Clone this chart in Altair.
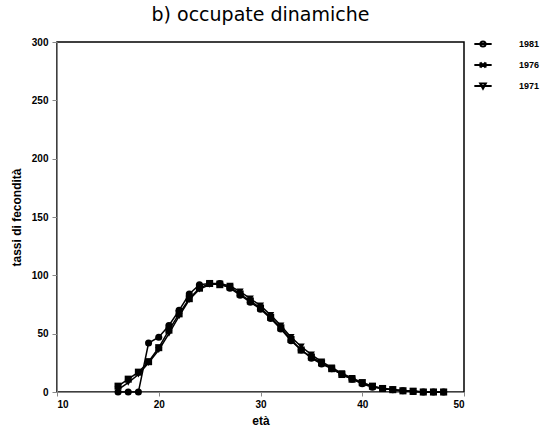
import altair as alt
import pandas as pd

ages = list(range(16, 49))
years = ["1981", "1976", "1971"]

v1981 = [0, 0, 0, 42, 47, 57, 70, 84, 92, 93, 93, 89, 83, 77, 71, 63, 54, 44, 36, 29,
         24, 20, 15, 11, 7, 4, 3, 2, 1, 0.5, 0, 0, 0]
v1976 = [5, 11, 17, 26, 38, 53, 67, 80, 89, 93, 92, 90, 84, 78, 72, 64, 55, 45, 36, 30,
         25, 20, 15, 11, 8, 5, 3, 2, 1, 0.5, 0, 0, 0]
v1971 = [2, 8, 15, 25, 36, 50, 65, 79, 88, 92, 93, 91, 86, 80, 74, 66, 57, 47, 39, 32,
         26, 21, 16, 12, 8, 5, 3, 2, 1, 1, 0, 0, 0]

rows = []
for yr, vals in zip(years, [v1981, v1976, v1971]):
    for a, v in zip(ages, vals):
        rows.append({"eta": a, "tasso": v, "anno": yr})
df = pd.DataFrame(rows)

FONT = "DejaVu Sans"

x = alt.X("eta:Q", scale=alt.Scale(domain=[10, 50], nice=False, zero=False),
          axis=alt.Axis(title="età", values=[10, 20, 30, 40, 50], format="d", grid=False,
                        labelFontWeight="bold", labelFontSize=10, titleFontSize=12,
                        titleFontWeight="bold", tickSize=4, labelPadding=3, titlePadding=6))
y = alt.Y("tasso:Q", scale=alt.Scale(domain=[0, 300], nice=False),
          axis=alt.Axis(title="tassi di fecondità", values=[0, 50, 100, 150, 200, 250, 300],
                        grid=False,
                        labelFontWeight="bold", labelFontSize=10, titleFontSize=12,
                        titleFontWeight="bold", tickSize=5, labelPadding=4, titlePadding=8))

lines = alt.Chart(df).mark_line(color="black", strokeWidth=1.5).encode(
    x=x, y=y, detail="anno:N"
)

points = alt.Chart(df).mark_point(filled=True, color="black", size=50, opacity=1).encode(
    x=x, y=y,
    shape=alt.Shape("anno:N", scale=alt.Scale(domain=years,
                                              range=["circle", "square", "triangle-down"]),
                    legend=None)
)

leg_paths = [
    "M-1,0L1,0M-0.3,0A0.3,0.3 0 1,0 0.3,0A0.3,0.3 0 1,0 -0.3,0Z",
    "M-1,0L1,0M-0.3,-0.3L0.3,0.3M-0.3,0.3L0.3,-0.3M-0.3,-0.3L-0.3,0.3M0.3,-0.3L0.3,0.3",
    "M-1,0L1,0M-0.32,-0.28L0.32,-0.28L0,0.3Z",
]

legend_layer = alt.Chart(df).mark_point(filled=False, color="black", opacity=0,
                                        strokeWidth=2).encode(
    x=x, y=y,
    shape=alt.Shape("anno:N", scale=alt.Scale(domain=years, range=leg_paths),
                    legend=alt.Legend(title=None, orient="none", legendX=416, legendY=-8,
                                      symbolSize=300, symbolOpacity=1,
                                      symbolStrokeColor="black",
                                      symbolStrokeWidth=2, labelFontSize=9,
                                      labelFontWeight="bold", labelOffset=26,
                                      rowPadding=4, padding=0))
)

chart = alt.layer(lines, points, legend_layer).resolve_scale(
    shape="independent"
).resolve_legend(shape="independent").properties(
    width=407, height=350,
    view=alt.ViewBackground(stroke="black", strokeWidth=1.5),
    title=alt.TitleParams("b) occupate dinamiche", fontSize=19, fontWeight="normal",
                          font=FONT, offset=9, anchor="middle"),
    autosize=alt.AutoSizeParams(type="none"),
    padding={"left": 57, "top": 42, "right": 82, "bottom": 43},
).configure_view(
    stroke="black", strokeWidth=1.5
).configure_axis(
    domainColor="black", tickColor="black", labelColor="black", titleColor="black",
    domainWidth=1.5, tickWidth=1.5, grid=False, labelFont=FONT, titleFont=FONT
).configure_legend(
    labelFont=FONT, labelColor="black"
).configure(background="white")

chart.save("out.html", embed_options={"renderer": "svg", "actions": False})
